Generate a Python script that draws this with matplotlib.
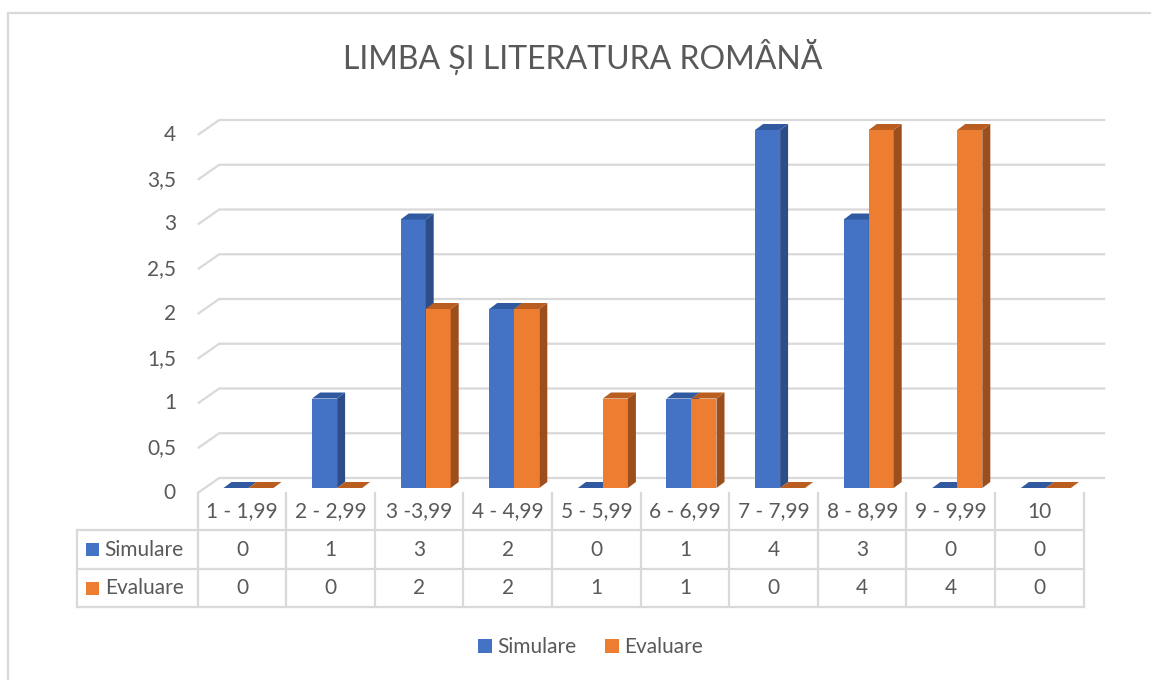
import matplotlib
matplotlib.use("Agg")
from matplotlib import pyplot as plt
from matplotlib.patches import Polygon, Rectangle
from matplotlib.lines import Line2D

plt.rcParams['font.family'] = ['Lato', 'DejaVu Sans']

title = "LIMBA ȘI LITERATURA ROMÂNĂ"
categories = ["1 - 1,99", "2 - 2,99", "3 -3,99", "4 - 4,99", "5 - 5,99",
              "6 - 6,99", "7 - 7,99", "8 - 8,99", "9 - 9,99", "10"]
series_names = ["Simulare", "Evaluare"]
simulare = [0, 1, 3, 2, 0, 1, 4, 3, 0, 0]
evaluare = [0, 0, 2, 2, 1, 1, 0, 4, 4, 0]
yticks = [0, 0.5, 1, 1.5, 2, 2.5, 3, 3.5, 4]
ytick_labels = ["0", "0,5", "1", "1,5", "2", "2,5", "3", "3,5", "4"]

front_cols = ["#4472C4", "#ED7D31"]
side_cols = ["#2D4D88", "#9C4E1C"]
top_cols = ["#3059A0", "#B95D21"]
grid_col = "#D9D9D9"
txt_col = "#595959"

W, H = 1151, 680
fig = plt.figure(figsize=(W / 100, H / 100), dpi=100)

# pixel layout of the plot box (front plane)
col_w = 88.6
unit = 89.5
x0_px = 197.7
y0_px = 493
DX = 21.5 / col_w     # depth of the back wall
DY = 15 / unit
n = len(categories)

ax = fig.add_axes([x0_px / W, 1 - y0_px / H,
                   (n + DX) * col_w / W, (4 + DY) * unit / H])
ax.set_xlim(-0.5, n - 0.5 + DX)
ax.set_ylim(0, 4 + DY)
ax.axis("off")

# chart border
fig.add_artist(Rectangle((8 / W, -0.1), 1.2, 1 - 13 / H + 0.1,
                         transform=fig.transFigure, fill=False,
                         edgecolor=grid_col, lw=1.6))

# back wall gridlines with the slanted side wall part
for v in yticks:
    ax.plot([-0.5, -0.5 + DX, n - 0.5 + DX], [v, v + DY, v + DY],
            color=grid_col, lw=1.6, zorder=1, clip_on=False, solid_capstyle="butt")
for v, lab in zip(yticks, ytick_labels):
    ax.text(-0.745, v, lab, ha="right", va="center", fontsize=15, color=txt_col)

# 3d-ish columns
w = 25 / col_w
ox = 6.5 / col_w
oy = 5 / unit
bdx = 8 / col_w
bdy = 6 / unit
z = 2
for k in range(n):
    for s, vals in enumerate([simulare, evaluare]):
        v = vals[k]
        xl = k + ox - w + s * w
        xr = xl + w
        ax.bar(xl, v, width=w, bottom=oy, align="edge", color=front_cols[s],
               zorder=z, linewidth=0)
        ax.add_patch(Polygon([(xr, oy), (xr + bdx, oy + bdy),
                              (xr + bdx, oy + v + bdy), (xr, oy + v)],
                             closed=True, color=side_cols[s], lw=0, zorder=z))
        ax.add_patch(Polygon([(xl, oy + v), (xl + bdx, oy + v + bdy),
                              (xr + bdx, oy + v + bdy), (xr, oy + v)],
                             closed=True, color=top_cols[s], lw=0, zorder=z))
        z += 1

# data table below the plot
rows_px = [493, 530, 569, 607]
rows = [(y0_px - p) / unit for p in rows_px]
left_x = -0.5 - (x0_px - 76.7) / col_w
for k in range(n + 1):
    ax.plot([k - 0.5, k - 0.5], [rows[0], rows[3]], color=grid_col, lw=1.6,
            clip_on=False, zorder=1)
ax.plot([left_x, left_x], [rows[1], rows[3]], color=grid_col, lw=1.6,
        clip_on=False, zorder=1)
for r in rows[1:]:
    ax.plot([left_x, n - 0.5], [r, r], color=grid_col, lw=1.6,
            clip_on=False, zorder=1)

for k, cat in enumerate(categories):
    ax.text(k, (rows[0] + rows[1]) / 2, cat, ha="center", va="center",
            fontsize=15, color=txt_col)
for s, vals in enumerate([simulare, evaluare]):
    ym = (rows[s + 1] + rows[s + 2]) / 2
    for k, v in enumerate(vals):
        ax.text(k, ym, str(v), ha="center", va="center", fontsize=15, color=txt_col)
    sq = 13 / col_w
    sx = left_x + 9.5 / col_w
    ax.add_patch(Rectangle((sx, ym - 6.5 / unit), sq, 13 / unit,
                           color=front_cols[s], clip_on=False, lw=0))
    ax.text(left_x + 28 / col_w, ym, series_names[s], ha="left", va="center",
            fontsize=15, color=txt_col)

fig.text(583 / W, 1 - 57 / H, title, ha="center", va="center",
         fontsize=23, color=txt_col)

handles = [Line2D([], [], marker="s", linestyle="none", markersize=10,
                  markerfacecolor=c, markeredgewidth=0) for c in front_cols]
fig.legend(handles, series_names, loc="center", bbox_to_anchor=(589 / W, 1 - 647 / H),
           ncol=2, frameon=False, fontsize=15, labelcolor=txt_col,
           handletextpad=0.1, columnspacing=1.2, handlelength=1.0)

fig.savefig("out.png", dpi=100)
